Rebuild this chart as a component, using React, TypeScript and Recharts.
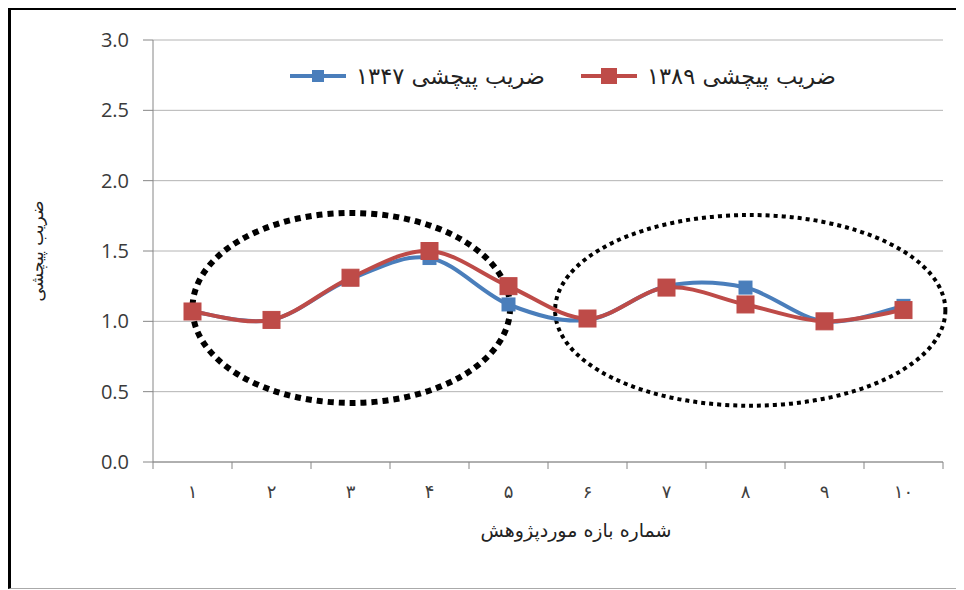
import React from "react";
import {
  LineChart,
  Line,
  XAxis,
  YAxis,
  CartesianGrid,
  Legend,
  ReferenceArea,
} from "recharts";

// شماره بازه ها
const reaches = ["۱", "۲", "۳", "۴", "۵", "۶", "۷", "۸", "۹", "۱۰"];
const sinuosity1347 = [1.07, 1.01, 1.3, 1.45, 1.12, 1.01, 1.25, 1.24, 1.0, 1.11];
const sinuosity1389 = [1.07, 1.01, 1.31, 1.5, 1.25, 1.02, 1.24, 1.12, 1.0, 1.08];
const yTicks = [0, 0.5, 1, 1.5, 2, 2.5, 3];

// dotted ellipses drawn round the two groups of reaches (data units)
const ellipseX = [
  [1.0, 5.02],
  [5.59, 10.53],
];
const ellipseY = [
  [0.42, 1.77],
  [0.4, 1.756],
];

const data = reaches.map((r, i) => ({
  reach: r,
  pos: i + 1,
  s1347: sinuosity1347[i],
  s1389: sinuosity1389[i],
}));

const BLUE = "#4a7ebb";
const RED = "#be4b48";
const FA = "'DejaVu Sans', sans-serif";

// excel-like smoothing (catmull-rom as bezier)
function excelCurve(context: any) {
  let pts: [number, number][] = [];
  return {
    areaStart() {},
    areaEnd() {},
    lineStart() {
      pts = [];
    },
    point(x: number, y: number) {
      pts.push([+x, +y]);
    },
    lineEnd() {
      if (!pts.length) return;
      context.moveTo(pts[0][0], pts[0][1]);
      for (let i = 0; i < pts.length - 1; i++) {
        const p0 = pts[i - 1] || pts[i];
        const p1 = pts[i];
        const p2 = pts[i + 1];
        const p3 = pts[i + 2] || p2;
        context.bezierCurveTo(
          p1[0] + (p2[0] - p0[0]) / 6,
          p1[1] + (p2[1] - p0[1]) / 6,
          p2[0] - (p3[0] - p1[0]) / 6,
          p2[1] - (p3[1] - p1[1]) / 6,
          p2[0],
          p2[1]
        );
      }
    },
  };
}

const squareDot = (size: number, fill: string) => (props: any) => {
  const { cx, cy, index } = props;
  if (cx == null || cy == null) return <g key={index} />;
  return (
    <rect
      key={index}
      x={cx - size / 2}
      y={cy - size / 2}
      width={size}
      height={size}
      fill={fill}
      stroke={fill}
      strokeWidth={1}
    />
  );
};

const XTick = (props: any) => {
  const { x, y, payload, index, visibleTicksCount } = props;
  const half = payload.offset || 39.5;
  return (
    <g>
      <line x1={x - half} y1={y} x2={x - half} y2={y + 7} stroke="#868686" />
      {index === visibleTicksCount - 1 && (
        <line x1={x + half} y1={y} x2={x + half} y2={y + 7} stroke="#868686" />
      )}
      <text
        x={x}
        y={y + 31}
        textAnchor="middle"
        dominantBaseline="middle"
        fontFamily={FA}
        fontSize={18}
        fill="#404040"
      >
        {payload.value}
      </text>
    </g>
  );
};

const ellipseShape = (thick: boolean) => (props: any) => {
  const { x, y, width, height } = props;
  return (
    <ellipse
      cx={x + width / 2}
      cy={y + height / 2}
      rx={Math.abs(width) / 2}
      ry={Math.abs(height) / 2}
      fill="none"
      stroke="#000"
      strokeWidth={thick ? 6 : 4}
      strokeDasharray={thick ? "6 5" : "4 4"}
    />
  );
};

const legendItems = [
  { label: "ضریب پیچشی ۱۳۴۷", color: BLUE, size: 12 },
  { label: "ضریب پیچشی ۱۳۸۹", color: RED, size: 16 },
];

const LegendContent = () => (
  <div style={{ display: "flex", alignItems: "center", gap: 36 }}>
    {legendItems.map((it) => (
      <div key={it.label} style={{ display: "flex", alignItems: "center", gap: 10 }}>
        <svg width={56} height={18}>
          <line x1={0} y1={9} x2={56} y2={9} stroke={it.color} strokeWidth={4} />
          <rect
            x={28 - it.size / 2}
            y={9 - it.size / 2}
            width={it.size}
            height={it.size}
            fill={it.color}
          />
        </svg>
        <span style={{ fontFamily: FA, fontSize: 22.5, color: "#222", whiteSpace: "nowrap" }}>
          {it.label}
        </span>
      </div>
    ))}
  </div>
);

export default function App() {
  return (
    <div
      style={{
        width: 953,
        height: 578,
        borderLeft: "3px solid #000",
        borderTop: "2px solid #000",
        borderBottom: "1px solid #aaa",
        background: "#fff",
        position: "relative",
      }}
    >
      <LineChart
        width={953}
        height={578}
        data={data}
        margin={{ top: 30, right: 21, bottom: 96, left: 82 }}
      >
        <CartesianGrid vertical={false} stroke="#b4b4b4" />
        <XAxis
          dataKey="reach"
          scale="band"
          height={30}
          tickSize={0}
          tickMargin={0}
          tickLine={false}
          stroke="#868686"
          tick={<XTick />}
          interval={0}
          label={{
            content: (p: any) => {
              const vb = p.viewBox;
              return (
                <text
                  x={vb.x + vb.width / 2 + 28}
                  y={vb.y + 69}
                  textAnchor="middle"
                  dominantBaseline="middle"
                  fontFamily={FA}
                  fontSize={19}
                  fill="#222"
                >
                  شماره بازه موردپژوهش
                </text>
              );
            },
          }}
        />
        <XAxis xAxisId="n" dataKey="pos" type="number" domain={[0.5, 10.5]} hide />
        <YAxis
          width={60}
          domain={[0, 3]}
          ticks={yTicks}
          tickFormatter={(v: number) => v.toFixed(1)}
          tickSize={10}
          tickMargin={14}
          stroke="#868686"
          tick={{ fill: "#3a3a3a", fontSize: 20, fontFamily: "'Open Sans', sans-serif" }}
          label={{
            content: (p: any) => {
              const vb = p.viewBox;
              const cx = vb.x - 55;
              const cy = vb.y + vb.height / 2;
              return (
                <text
                  x={cx}
                  y={cy}
                  transform={`rotate(-90 ${cx} ${cy})`}
                  textAnchor="middle"
                  dominantBaseline="middle"
                  fontFamily={FA}
                  fontSize={17}
                  fill="#222"
                >
                  ضریب پیچشی
                </text>
              );
            },
          }}
        />
        <Legend
          verticalAlign="middle"
          align="center"
          layout="horizontal"
          content={<LegendContent />}
          wrapperStyle={{ top: 53, left: 279, width: "auto", height: "auto" }}
        />
        <Line
          dataKey="s1347"
          name="ضریب پیچشی ۱۳۴۷"
          type={excelCurve as any}
          stroke={BLUE}
          strokeWidth={4}
          dot={squareDot(13, BLUE)}
          activeDot={false}
          isAnimationActive={false}
        />
        <Line
          dataKey="s1389"
          name="ضریب پیچشی ۱۳۸۹"
          type={excelCurve as any}
          stroke={RED}
          strokeWidth={4}
          dot={squareDot(17, RED)}
          activeDot={false}
          isAnimationActive={false}
        />
        {ellipseX.map((ex, i) => (
          <ReferenceArea
            key={i}
            xAxisId="n"
            x1={ex[0]}
            x2={ex[1]}
            y1={ellipseY[i][0]}
            y2={ellipseY[i][1]}
            ifOverflow="visible"
            shape={ellipseShape(i === 0)}
          />
        ))}
      </LineChart>
    </div>
  );
}
